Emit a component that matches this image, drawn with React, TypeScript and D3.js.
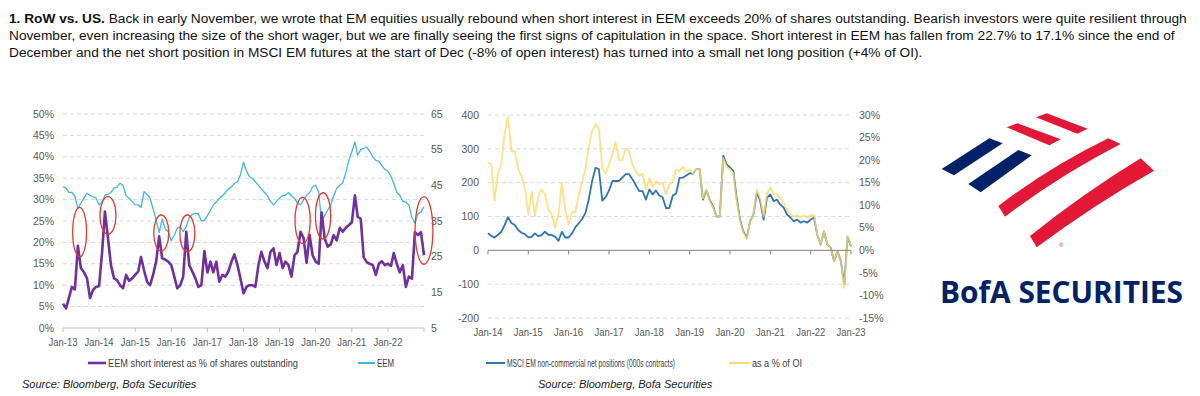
import * as d3 from 'd3';

// EEM short interest, % of shares outstanding (monthly, Jan-13 .. Jan-23)
const shortInterest = [
  5.7, 4.6, 7, 9.6, 9, 19.2, 14, 13, 11.6, 7, 8.9, 9.6,
  9.8, 17.8, 27.2, 21, 14.7, 11.6, 11.2, 10, 9.3, 12.4, 11, 11.6,
  12.4, 13.2, 16.6, 13.5, 10.8, 10, 12.4, 15.5, 21.4, 16.3, 16, 15.5,
  14.7, 12, 9.3, 10, 12, 22.5, 14.7, 13.2, 11.6, 9.6, 10, 18,
  13, 15.5, 13, 15.5, 10.8, 12.4, 12, 13.2, 15.5, 17.2, 14.7, 11.6,
  8.1, 9.6, 10, 10, 9.6, 14.7, 17.8, 15.5, 14, 17.8, 18.6, 14.7,
  17.5, 14, 15.5, 14.7, 12, 17, 17.8, 22.5, 21, 15.2, 21.7, 17,
  15.5, 15, 27, 21, 19, 19.5, 21.7, 20.5, 23.4, 22.5, 23.4, 24,
  24.7, 31, 26, 25.5, 16.5, 15.4, 15, 14.7, 12.4, 15, 15.6, 14.7,
  15, 14.5, 17.5, 15, 13, 14.7, 9.6, 12, 11.5, 22.4, 21.7, 22.4,
  17,
];

// EEM price (monthly, Jan-13 .. Jan-23)
const eemPrice = [
  44.6, 44.2, 43, 43, 42, 38.5, 40, 41.4, 42.8, 42.2, 41.8, 41.4,
  39.5, 40.3, 42.2, 42.5, 43, 44.2, 44.5, 45.6, 45, 42, 41.4, 40.5,
  39.6, 39.5, 38.8, 43.2, 42.5, 41.4, 38.5, 35.3, 31.8, 35.5, 32.8, 32,
  29.5, 31, 33, 33.4, 32, 33.5, 36, 36.8, 37.2, 37, 35, 35.2,
  36.5, 38, 39.5, 40.3, 41.4, 42, 43, 44, 44.6, 45.5, 46, 48,
  51.5, 49, 47.5, 46.9, 46, 45, 44, 43, 42, 40.5, 39.5, 40.5,
  41.4, 42.2, 42.2, 43, 42, 41.4, 40, 39.5, 41, 42.2, 43, 44.6,
  45, 43, 34.8, 36.5, 38, 39.5, 42, 44.2, 45, 45.7, 48.5, 52,
  54.4, 57.2, 53.5, 55, 55.4, 55.7, 54.5, 53, 52, 51.8, 50.5, 49.5,
  49, 47.5, 45.6, 43, 42.2, 40.5, 40.3, 39.5, 36, 34.4, 37, 37.5,
  39,
];

// MSCI EM non-commercial net positions, 000s contracts (monthly, Jan-14 .. Jan-23)
const netPositions = [
  51, 42, 38, 46, 55, 75, 98, 81, 75, 60, 52, 48,
  38, 40, 50, 42, 45, 55, 46, 45, 40, 28, 55, 38,
  38, 50, 68, 80, 92, 110, 150, 205, 244, 240, 147, 157,
  177, 205, 205, 205, 215, 225, 225, 210, 192, 175, 175, 150,
  180, 165, 177, 162, 157, 125, 125, 162, 168, 214, 215, 221,
  228, 226, 240, 240, 150, 178, 150, 130, 100, 100, 280, 255,
  245, 234, 156, 91, 56, 37, 86, 106, 171, 145, 91, 156,
  165, 145, 150, 135, 126, 106, 97, 86, 91, 82, 86, 82,
  91, 97, 46, 17, 56, 17, 8, -32, -3, -32, -100, 40,
  12,
];

// net position as a % of open interest
const pctOfOI = [
  19.5, 19, 11, 17, 19, 26, 29.5, 22, 22, 18, 16.5, 14,
  8, 13, 7.5, 12, 13.5, 12.5, 9, 8, 5, 8, 15, 9,
  5.7, 8.5, 8.5, 12, 15, 18, 23, 26.5, 28, 27, 18, 17,
  19, 21.5, 24, 20, 20, 22.5, 22, 19, 17.5, 16.5, 17, 13.5,
  16, 14, 15.3, 14.6, 15, 12.4, 14.6, 15.3, 18, 17.5, 18.5, 17.5,
  18, 17, 18, 18, 11.5, 13.5, 11, 9.5, 7.5, 7.5, 20.5, 18.5,
  18, 17, 11, 6.5, 4, 2.5, 6.5, 8, 13.5, 11.5, 7.5, 12.5,
  14, 12.5, 12.5, 11.5, 10.5, 9, 8, 7.5, 7.8, 7.3, 7.8, 7.2,
  7.8, 7.8, 3.5, 1.3, 4.2, 1.3, 0.5, -2.4, -0.3, -2.5, -8.3, 3.3,
  1,
];

const leftTickLabels = ['Jan-13', 'Jan-14', 'Jan-15', 'Jan-16', 'Jan-17', 'Jan-18', 'Jan-19', 'Jan-20', 'Jan-21', 'Jan-22'];
const rightTickLabels = ['Jan-14', 'Jan-15', 'Jan-16', 'Jan-17', 'Jan-18', 'Jan-19', 'Jan-20', 'Jan-21', 'Jan-22', 'Jan-23'];
const siTicks = [0, 5, 10, 15, 20, 25, 30, 35, 40, 45, 50];
const eemTicks = [5, 15, 25, 35, 45, 55, 65];
const netTicks = [-200, -100, 0, 100, 200, 300, 400];
const oiTicks = [-15, -10, -5, 0, 5, 10, 15, 20, 25, 30];

// red rings: months after Jan-13, centre (%), half width (months), half height (%)
const ringMonth = [5.6, 15, 32.7, 41.4, 79.7, 86.5, 120];
const ringCentre = [22.4, 26.3, 22.2, 22.1, 25.1, 26.2, 22.8];
const ringHalfMonths = [2.3, 2.7, 2.5, 2.5, 2.5, 2.5, 3];
const ringHalfPct = [5.8, 4.4, 4.2, 4.3, 5.4, 5.4, 7.9];

const paragraph = [
  'Back in early November, we wrote that EM equities usually rebound when short interest in EEM exceeds 20% of shares outstanding. Bearish investors were quite resilient through',
  'November, even increasing the size of the short wager, but we are finally seeing the first signs of capitulation in the space. Short interest in EEM has fallen from 22.7% to 17.1% since the end of',
  'December and the net short position in MSCI EM futures at the start of Dec (-8% of open interest) has turned into a small net long position (+4% of OI).',
];

const parseTick = d3.timeParse('%b-%y');
const monthFrom = (year: number, m: number) => new Date(year, Math.floor(m), 1 + (m % 1) * 30);

const sans = "'Liberation Sans', Arial, sans-serif";
const axisText = { fontSize: 10.5, fill: '#595959', fontFamily: sans };

const LeftChart = () => {
  const x = d3.scaleTime().domain([new Date(2013, 0, 1), new Date(2023, 0, 1)]).range([63, 424]);
  const y = d3.scaleLinear().domain([0, 50]).range([328, 114]);
  const y2 = d3.scaleLinear().domain([5, 65]).range([328, 114]);

  const siLine = d3.line<number>().x((_, i) => x(new Date(2013, i, 1))).y(d => y(d));
  const eemLine = d3.line<number>().x((_, i) => x(new Date(2013, i, 1))).y(d => y2(d));

  return (
    <g>
      {siTicks.filter(t => t > 0).map(t => (
        <line key={t} x1={63} x2={424} y1={y(t)} y2={y(t)} stroke="#d9d9d9" strokeDasharray="4,3" />
      ))}
      <line x1={63} x2={424} y1={y(0)} y2={y(0)} stroke="#bfbfbf" />
      {leftTickLabels.concat(['Jan-23']).map(l => (
        <line key={l} x1={x(parseTick(l)!)} x2={x(parseTick(l)!)} y1={y(0)} y2={y(0) + 4} stroke="#bfbfbf" />
      ))}
      {siTicks.map(t => (
        <text key={t} x={54} y={y(t)} dy="0.35em" textAnchor="end" {...axisText}>{t}%</text>
      ))}
      {eemTicks.map(t => (
        <text key={t} x={431} y={y2(t)} dy="0.35em" {...axisText}>{t}</text>
      ))}
      {leftTickLabels.map(l => (
        <text key={l} x={x(parseTick(l)!)} y={346} textAnchor="middle" textLength={29} lengthAdjust="spacingAndGlyphs" {...axisText}>{l}</text>
      ))}
      <path d={eemLine(eemPrice)!} fill="none" stroke="#41b6e6" strokeWidth={1.3} strokeLinejoin="round" />
      <path d={siLine(shortInterest)!} fill="none" stroke="#7030a0" strokeWidth={2.6} strokeLinejoin="round" />
      {ringMonth.map((m, i) => {
        const cx = x(monthFrom(2013, m));
        const rx = x(monthFrom(2013, m + ringHalfMonths[i])) - cx;
        const cy = y(ringCentre[i]);
        const ry = y(ringCentre[i] - ringHalfPct[i]) - cy;
        return <ellipse key={i} cx={cx} cy={cy} rx={rx} ry={ry} fill="none" stroke="#e8372f" strokeWidth={1.3} />;
      })}
      <line x1={88} x2={106} y1={363} y2={363} stroke="#7030a0" strokeWidth={2.6} />
      <text x={108} y={367} fontSize={10} fill="#404040" fontFamily={sans} textLength={190} lengthAdjust="spacingAndGlyphs">EEM short interest as % of shares outstanding</text>
      <line x1={358} x2={375} y1={363} y2={363} stroke="#41b6e6" strokeWidth={2} />
      <text x={377} y={367} fontSize={10} fill="#404040" fontFamily={sans} textLength={17} lengthAdjust="spacingAndGlyphs">EEM</text>
      <text x={22} y={388} fontSize={11} fontStyle="italic" fill="#222" fontFamily={sans}>Source: Bloomberg, Bofa Securities</text>
    </g>
  );
};

const RightChart = () => {
  const x = d3.scaleTime().domain([new Date(2014, 0, 1), new Date(2023, 0, 1)]).range([488, 851]);
  const y = d3.scaleLinear().domain([-200, 400]).range([318, 115]);
  const y2 = d3.scaleLinear().domain([-15, 30]).range([318, 115]);

  const netLine = d3.line<number>().x((_, i) => x(new Date(2014, i, 1))).y(d => y(d));
  const oiLine = d3.line<number>().x((_, i) => x(new Date(2014, i, 1))).y(d => y2(d));

  return (
    <g>
      {netTicks.filter(t => t !== 0).map(t => (
        <line key={t} x1={488} x2={851} y1={y(t)} y2={y(t)} stroke="#d9d9d9" strokeDasharray="4,3" />
      ))}
      {netTicks.map(t => (
        <text key={t} x={479} y={y(t)} dy="0.35em" textAnchor="end" {...axisText}>{t}</text>
      ))}
      {oiTicks.map(t => (
        <text key={t} x={859} y={y2(t)} dy="0.35em" {...axisText}>{t}%</text>
      ))}
      {rightTickLabels.map(l => (
        <text key={l} x={x(parseTick(l)!)} y={336} textAnchor="middle" textLength={29} lengthAdjust="spacingAndGlyphs" {...axisText}>{l}</text>
      ))}
      <path d={netLine(netPositions)!} fill="none" stroke="#2e75b6" strokeWidth={1.8} strokeLinejoin="round" />
      <path d={oiLine(pctOfOI)!} fill="none" stroke="#ffd966" strokeWidth={1.8} strokeOpacity={0.8} strokeLinejoin="round" />
      <line x1={488} x2={851} y1={y(0)} y2={y(0)} stroke="#808080" />
      {rightTickLabels.map(l => (
        <line key={l} x1={x(parseTick(l)!)} x2={x(parseTick(l)!)} y1={y(0)} y2={y(0) + 4} stroke="#808080" />
      ))}
      <line x1={486} x2={505} y1={363} y2={363} stroke="#2e75b6" strokeWidth={2} />
      <text x={507} y={367} fontSize={10} fill="#404040" fontFamily={sans} textLength={168} lengthAdjust="spacingAndGlyphs">MSCI EM non-commercial net positions (000s contracts)</text>
      <line x1={729} x2={749} y1={363} y2={363} stroke="#ffd966" strokeWidth={2} />
      <text x={752} y={367} fontSize={10} fill="#404040" fontFamily={sans} textLength={50} lengthAdjust="spacingAndGlyphs">as a % of OI</text>
      <text x={538} y={388} fontSize={11} fontStyle="italic" fill="#222" fontFamily={sans}>Source: Bloomberg, Bofa Securities</text>
    </g>
  );
};

// logo geometry, in a 3x local frame anchored at (890,100)
const lp = (px: number, py: number) => `${890 + px / 3},${100 + py / 3}`;
const quad = (pts: number[][]) => 'M' + pts.map(p => lp(p[0], p[1])).join('L') + 'Z';

const Logo = () => (
  <g>
    <path d={quad([[155, 207], [298, 115], [338, 130], [192, 226]])} fill="#012169" />
    <path d={quad([[235, 252], [385, 150], [425, 166], [272, 277]])} fill="#012169" />
    <path d={quad([[350, 82], [382, 70], [512, 118], [478, 136]])} fill="#e31837" />
    <path d={quad([[438, 52], [470, 40], [593, 86], [562, 101]])} fill="#e31837" />
    <path d={`M${lp(325, 318)}Q${lp(480, 200)} ${lp(655, 115)}L${lp(692, 132)}Q${lp(510, 225)} ${lp(345, 350)}Z`} fill="#e31837" />
    <path d={`M${lp(420, 408)}Q${lp(580, 280)} ${lp(752, 175)}L${lp(792, 212)}Q${lp(610, 315)} ${lp(440, 442)}Z`} fill="#e31837" />
    <text x={1059} y={247} fontSize={6} fill="#e31837" fontFamily={sans}>®</text>
    <text x={940} y={303} fontSize={31} fontWeight="bold" fill="#012169" fontFamily="'Open Sans', 'Noto Sans', sans-serif" textLength={243} lengthAdjust="spacingAndGlyphs">BofA SECURITIES</text>
  </g>
);

export default function App() {
  return (
    <svg width={1200} height={396} style={{ position: 'absolute', left: 0, top: 0, background: '#fff' }}>
      <rect width={1200} height={396} fill="#fff" />
      <g fontFamily={sans} fontSize={13.7} fill="#111">
        <text x={9} y={23}>
          <tspan fontWeight="bold">1. RoW vs. US.</tspan> {paragraph[0]}
        </text>
        <text x={9} y={40}>{paragraph[1]}</text>
        <text x={9} y={57}>{paragraph[2]}</text>
      </g>
      <LeftChart />
      <RightChart />
      <Logo />
    </svg>
  );
}
